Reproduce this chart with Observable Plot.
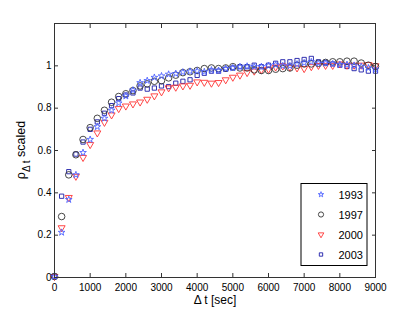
<!DOCTYPE html>
<html>
<head>
<meta charset="utf-8">
<script src="https://cdn.jsdelivr.net/npm/d3@7"></script>
<script src="https://cdn.jsdelivr.net/npm/@observablehq/plot@0.6"></script>
<style>
  html, body { margin: 0; padding: 0; background: #fff; }
  svg { display: block; }
</style>
</head>
<body>
<div id="chart"></div>
<script>
// Δt values [sec]
const times = [0,200,400,600,800,1000,1200,1400,1600,1800,2000,2200,2400,2600,2800,3000,3200,3400,3600,3800,4000,4200,4400,4600,4800,5000,5200,5400,5600,5800,6000,6200,6400,6600,6800,7000,7200,7400,7600,7800,8000,8200,8400,8600,8800,9000];

const s1993 = [0.005,0.213,0.368,0.485,0.59,0.652,0.712,0.752,0.79,0.824,0.857,0.885,0.92,0.93,0.945,0.952,0.96,0.963,0.97,0.974,0.975,0.972,0.98,0.978,0.987,0.99,0.996,0.998,0.996,0.996,1.0,1.005,1.0,1.0,1.008,1.014,1.019,1.012,1.012,1.009,1.006,1.006,1.002,0.997,0.99,0.984];
const s1997 = [0.005,0.288,0.485,0.58,0.652,0.708,0.752,0.79,0.828,0.855,0.868,0.883,0.905,0.915,0.927,0.93,0.943,0.956,0.968,0.972,0.978,0.987,0.99,0.987,0.99,0.996,0.99,0.99,0.981,0.978,0.978,0.984,0.987,0.99,1.003,1.009,1.009,1.012,1.016,1.019,1.019,1.022,1.022,1.013,1.003,0.997];
const s2000 = [0.005,0.235,0.378,0.478,0.567,0.628,0.683,0.733,0.768,0.798,0.81,0.82,0.829,0.842,0.858,0.877,0.896,0.899,0.905,0.908,0.924,0.922,0.918,0.921,0.934,0.946,0.956,0.968,0.975,0.981,0.984,0.994,0.999,0.994,0.99,0.987,0.996,1.002,1.002,1.002,1.009,1.003,1.003,1.003,1.006,1.0];
const s2003 = [0.005,0.384,0.5,0.583,0.64,0.7,0.735,0.776,0.812,0.845,0.862,0.872,0.895,0.89,0.895,0.905,0.902,0.918,0.927,0.934,0.955,0.965,0.975,0.975,0.984,0.99,0.996,0.996,1.003,0.996,1.003,1.012,1.019,1.019,1.025,1.03,1.035,1.019,1.016,1.009,1.003,0.997,0.987,0.981,0.975,0.975];

const seriesNames = ["1993", "1997", "2000", "2003"];
const xTicks = [0,1000,2000,3000,4000,5000,6000,7000,8000,9000];
const xTickLabels = ["0","1000","2000","3000","4000","5000","6000","7000","8000","9000"];
const yTicks = [0,0.2,0.4,0.6,0.8,1];
const yTickLabels = ["0","0.2","0.4","0.6","0.8","1"];

const styles = {
  "1993": {symbol: "star", stroke: "#4f63ff", r: 2.1, rl: 1.7, rotate: 0},
  "1997": {symbol: "circle", stroke: "#333333", r: 3.3, rl: 2.6, rotate: 0},
  "2000": {symbol: "triangle", stroke: "#ff3333", r: 2.6, rl: 2.1, rotate: 180},
  "2003": {symbol: "square", stroke: "#1c1ca8", r: 2.4, rl: 1.9, rotate: 0}
};

const toRows = (name, vals) => times.map((t, i) => ({t, v: vals[i], series: name}));
const data = {
  "1993": toRows("1993", s1993),
  "1997": toRows("1997", s1997),
  "2000": toRows("2000", s2000),
  "2003": toRows("2003", s2003)
};

const drawOrder = ["2003", "2000", "1997", "1993"];

const W = 415, H = 313;
const chart = Plot.plot({
  width: W, height: H,
  marginLeft: 54, marginRight: 40, marginTop: 23, marginBottom: 36,
  style: {fontFamily: "'Liberation Sans', Arial, sans-serif", fontSize: "10px", background: "#fff", color: "#000", overflow: "visible"},
  x: {domain: [0, 9000]},
  y: {domain: [0, 1.2]},
  marks: [
    ...drawOrder.map(k => Plot.dot(data[k], {
      x: "t", y: "v", symbol: () => styles[k].symbol,
      stroke: styles[k].stroke, r: styles[k].r, rotate: styles[k].rotate,
      strokeWidth: 0.9, fill: "none"
    })),
    Plot.axisX(xTicks, {anchor: "bottom", tickSize: -4, tickPadding: 10, tickFormat: (d, i) => xTickLabels[i], label: null, stroke: "#333", letterSpacing: "-0.8px"}),
    Plot.axisX(xTicks, {anchor: "top", tickSize: -4, tickFormat: () => "", label: null, stroke: "#333"}),
    Plot.axisY(yTicks, {anchor: "left", tickSize: -4, tickPadding: 7, tickFormat: (d, i) => yTickLabels[i], label: null, stroke: "#333"}),
    Plot.axisY(yTicks, {anchor: "right", tickSize: -4, tickFormat: () => "", label: null, stroke: "#333"}),
    Plot.frame({stroke: "#333", strokeWidth: 1})
  ]
});
document.getElementById("chart").appendChild(chart);

const svg = d3.select(chart);
const font = "'Liberation Sans', Arial, sans-serif";

// x axis label
svg.append("text")
  .attr("x", 215).attr("y", 304)
  .attr("text-anchor", "middle")
  .attr("font-family", font).attr("font-size", 12)
  .text("Δ t [sec]");

// y axis label with subscript
const yl = svg.append("text")
  .attr("transform", "translate(25,150) rotate(-90)")
  .attr("text-anchor", "middle")
  .attr("font-family", font).attr("font-size", 12.5);
yl.append("tspan").text("ρ");
yl.append("tspan").attr("dy", 4.5).attr("font-size", 10).text("Δ t");
yl.append("tspan").attr("dy", -4.5).text(" scaled");

// legend
const lg = svg.append("g");
lg.append("rect").attr("x", 301).attr("y", 183.5).attr("width", 66).attr("height", 82)
  .attr("fill", "#fff").attr("stroke", "#000").attr("stroke-width", 1);
const rowsY = [194.5, 214.5, 234.5, 254.5];
seriesNames.forEach((name, i) => {
  const st = styles[name];
  const symObj = {star: d3.symbolStar, circle: d3.symbolCircle, triangle: d3.symbolTriangle, square: d3.symbolSquare}[st.symbol];
  const rr = st.rl;
  lg.append("path")
    .attr("d", d3.symbol(symObj, Math.PI * rr * rr)())
    .attr("transform", `translate(321,${rowsY[i]}) rotate(${st.rotate})`)
    .attr("fill", "none").attr("stroke", st.stroke).attr("stroke-width", 0.9);
  lg.append("text")
    .attr("x", 338.5).attr("y", rowsY[i] + 4)
    .attr("text-anchor", "start")
    .attr("font-family", font).attr("font-size", 11)
    .text(name);
});
</script>
</body>
</html>
